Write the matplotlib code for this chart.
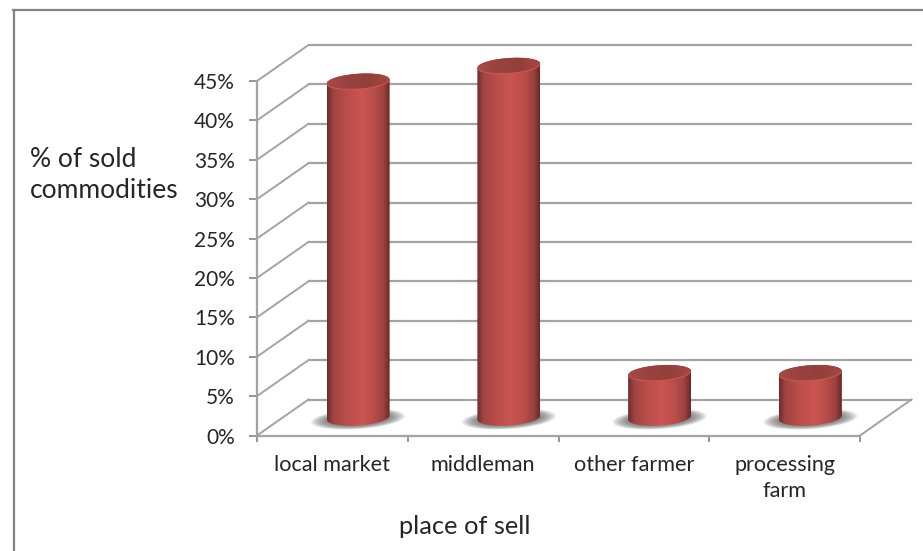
import numpy as np
import matplotlib
matplotlib.use("Agg")
import matplotlib.pyplot as plt

from matplotlib.colors import LinearSegmentedColormap
from matplotlib.lines import Line2D
from matplotlib.patches import PathPatch
from matplotlib.path import Path

plt.rcParams["font.family"] = ["Lato", "DejaVu Sans"]

#
# Data
#
categories = ["local market", "middleman", "other farmer", "processing\nfarm"]
sold_pct = [42.6, 44.6, 5.6, 5.6]
y_ticks = [0, 5, 10, 15, 20, 25, 30, 35, 40, 45]

W, H = 923, 551
GRID = "#a3a3a3"
TEXT = "#262626"

fig = plt.figure(figsize=(W / 100, H / 100), dpi=100, facecolor="white")

# Axes is the front plane of the 3D box
left, right, bottom, top = 257, 860, 435.5, 81
ax = fig.add_axes([left / W, 1 - bottom / H, (right - left) / W, (bottom - top) / H])
ax.set_facecolor("none")

# pixels to data units
px_x = 4 / (right - left)
px_y = 45 / (bottom - top)

# Depth of the box, in data units
depth_x = 51.5 * px_x
depth_y = 36 * px_y

#
# Walls and floor
#
for val in y_ticks:
    ax.plot([0, depth_x], [val, val + depth_y], color=GRID, lw=1.4, clip_on=False, zorder=1)
    ax.plot([depth_x, 4 + depth_x], [val + depth_y, val + depth_y], color=GRID, lw=1.6,
            clip_on=False, zorder=1)
ax.plot([4, 4 + depth_x], [0, depth_y], color=GRID, lw=1.4, clip_on=False, zorder=1)

#
# Cylinders
#
body_cmap = LinearSegmentedColormap.from_list(
    "body",
    [(0, "#6e2c2b"), (0.1, "#a04441"), (0.3, "#b84d4a"), (0.55, "#cc5451"),
     (0.75, "#b84d4a"), (0.9, "#9c4240"), (1, "#6a2827")])
cap_cmap = LinearSegmentedColormap.from_list("cap", ["#aa4946", "#984240", "#924039", "#a84845"])
strip = np.linspace(0, 1, 256).reshape(1, -1)


def ring(cx, cy, a, b, t):
    # slightly tilted ellipse, right side higher (a and b in pixels)
    xs = cx + a * np.cos(t) * px_x
    ys = cy + (b * np.sin(t) + 0.065 * a * np.cos(t)) * px_y
    return np.column_stack([xs, ys])


def clipped_strip(verts, cmap, extent, zorder):
    im = ax.imshow(strip, cmap=cmap, extent=extent, aspect="auto", zorder=zorder)
    patch = PathPatch(Path(np.vstack([verts, verts[:1]])), transform=ax.transData,
                      fc="none", ec="none", clip_on=False)
    ax.add_patch(patch)
    # the tops reach past the axes box, so only clip to the cylinder shape
    im.set_clip_box(fig.bbox)
    im.set_clip_path(patch)


half_w, half_h = 31.5, 8
for i, val in enumerate(sold_pct):
    cx = i + 0.5 + depth_x / 2
    cy = depth_y / 2
    x0, x1 = cx - half_w * px_x, cx + half_w * px_x

    # soft floor shadow
    t_all = np.linspace(0, 2 * np.pi, 80)
    for grow in np.linspace(1.0, 0.55, 14):
        pts = ring(cx, cy - 0.2, 47 * grow, 10 * grow, t_all)
        ax.fill(pts[:, 0], pts[:, 1], color="#5e5e5e", alpha=0.11, lw=0, zorder=2)

    # body: lower half of the base, upper half of the top
    base = ring(cx, cy, half_w, half_h, np.linspace(np.pi, 2 * np.pi, 60))
    cap = ring(cx, cy + val, half_w, half_h, np.linspace(0, np.pi, 60))
    clipped_strip(np.vstack([base, cap]), body_cmap, [x0, x1, 0, 50], 3)

    # light lip, then the darker cap
    lip = ring(cx, cy + val, half_w, half_h, t_all)
    ax.fill(lip[:, 0], lip[:, 1], color="#c95451", lw=0, zorder=4, clip_on=False)
    top_face = ring(cx, cy + val + 0.8 * px_y, half_w - 0.3, half_h - 0.6, t_all)
    clipped_strip(top_face, cap_cmap, [x0, x1, 0, 50], 5)

ax.set_xlim(0, 4)
ax.set_ylim(0, 45)

#
# Axes, ticks and labels
#
for side in ["top", "right"]:
    ax.spines[side].set_visible(False)
for side in ["left", "bottom"]:
    ax.spines[side].set_color(GRID)
    ax.spines[side].set_linewidth(1.6)
    ax.spines[side].set_zorder(6)

ax.set_yticks(y_ticks)
ax.set_yticklabels(["%d%%" % val for val in y_ticks], fontsize=15, color=TEXT)
ax.tick_params(axis="y", length=6, width=1.3, color="#8c8c8c", pad=10)

ax.set_xticks(range(5))
ax.set_xticklabels([])
ax.tick_params(axis="x", which="major", length=4.5, width=1.3, color="#8c8c8c")
ax.set_xticks(np.arange(4) + 0.5, minor=True)
ax.set_xticklabels(categories, minor=True, fontsize=15.6, color=TEXT, linespacing=1.38, va="top")
ax.tick_params(axis="x", which="minor", length=0, pad=14)

ax.set_xlabel("place of sell", fontsize=18.3, color=TEXT)
ax.xaxis.set_label_coords((465 - left) / (right - left), (bottom - 527) / (bottom - top), transform=ax.transAxes)
ax.xaxis.label.set_va("center")

ax.set_ylabel("% of sold\ncommodities", rotation=0, ha="left", va="center", fontsize=19,
              color=TEXT, linespacing=1.3, multialignment="left")
ax.yaxis.set_label_coords((30 - left) / (right - left), (bottom - 175) / (bottom - top), transform=ax.transAxes)

#
# Frame round the picture: left and top only
#
fig.add_artist(Line2D([13.5 / W, 13.5 / W], [0, 1 - 10 / H], color="#828282", lw=1.6))
fig.add_artist(Line2D([13 / W, 1], [1 - 10 / H, 1 - 10 / H], color="#828282", lw=1.6))

fig.savefig("out.png", dpi=100)
